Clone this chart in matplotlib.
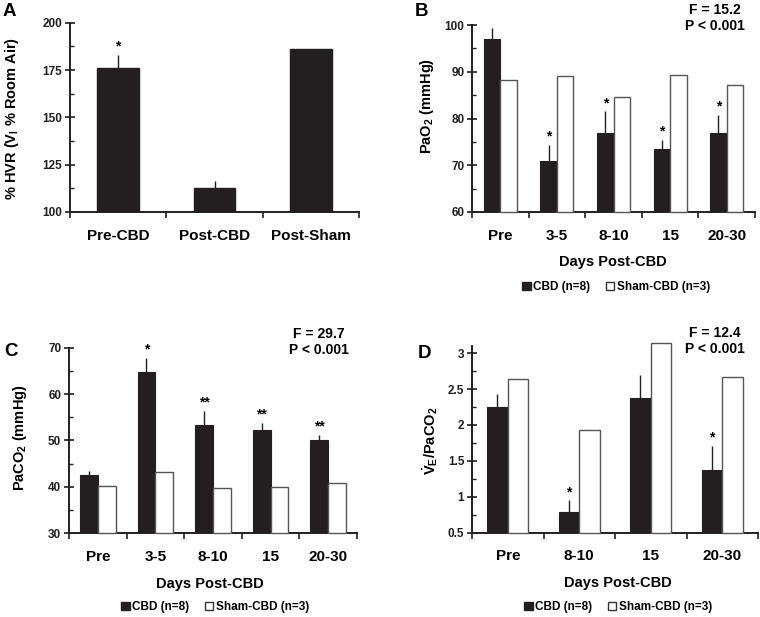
import numpy as np
import matplotlib
matplotlib.use('Agg')
import matplotlib.pyplot as plt
from matplotlib.patches import Patch
from matplotlib.ticker import MultipleLocator, FixedLocator, NullFormatter

plt.rcParams['font.family'] = ['Liberation Sans', 'DejaVu Sans']
plt.rcParams['font.weight'] = 'bold'
plt.rcParams['mathtext.fontset'] = 'custom'
plt.rcParams['mathtext.rm'] = 'Liberation Sans:bold'
plt.rcParams['mathtext.it'] = 'Liberation Sans:bold'
plt.rcParams['mathtext.bf'] = 'Liberation Sans:bold'

# panel A - hypoxic ventilatory response
hvr_labels = ['Pre-CBD', 'Post-CBD', 'Post-Sham']
hvr_vals = [176.2, 112.5, 186.0]
hvr_err = [6.7, 4.1, 0.0]
hvr_sig = ['*', '', '']

# panel B - PaO2
days_b = ['Pre', '3-5', '8-10', '15', '20-30']
pao2_cbd = [96.9, 71.0, 77.0, 73.4, 77.0]
pao2_cbd_err = [2.4, 3.4, 4.5, 2.0, 3.7]
pao2_sham = [88.2, 89.0, 84.5, 89.2, 87.1]
pao2_sig = ['', '*', '*', '*', '*']

# panel C - PaCO2
days_c = ['Pre', '3-5', '8-10', '15', '20-30']
paco2_cbd = [42.5, 64.7, 53.4, 52.2, 50.1]
paco2_cbd_err = [0.8, 3.1, 3.0, 1.5, 1.1]
paco2_sham = [40.2, 43.2, 39.7, 40.0, 40.7]
paco2_sig = ['', '*', '**', '**', '**']

# panel D - VE/PaCO2
days_d = ['Pre', '8-10', '15', '20-30']
ve_cbd = [2.25, 0.79, 2.38, 1.38]
ve_cbd_err = [0.18, 0.16, 0.32, 0.33]
ve_sham = [2.64, 1.93, 3.14, 2.67]
ve_sig = ['', '*', '', '*']

BLACK = '#231f20'
W, H = 760, 617
fig = plt.figure(figsize=(7.6, 6.17), dpi=100)


def px_axes(l, t, r, b):
    return fig.add_axes([l / W, 1 - b / H, (r - l) / W, (b - t) / H])


def ftxt(x, y, s, **kw):
    fig.text(x / W, 1 - y / H, s, **kw)


def style(ax, n, ylim, major, minor, fmt=None):
    ax.set_xlim(-0.5, n - 0.5)
    ax.set_ylim(*ylim)
    for s in ['top', 'right']:
        ax.spines[s].set_visible(False)
    for s in ['left', 'bottom']:
        ax.spines[s].set_linewidth(1.4)
        ax.spines[s].set_color(BLACK)
    ax.yaxis.set_major_locator(MultipleLocator(major))
    ax.yaxis.set_minor_locator(MultipleLocator(minor))
    if fmt:
        ax.yaxis.set_major_formatter(fmt)
    ax.tick_params(axis='y', which='major', direction='inout', length=7,
                   width=1.2, labelsize=8.5, pad=2, colors=BLACK)
    ax.tick_params(axis='y', which='minor', direction='in', length=3,
                   width=1.0, colors=BLACK)
    # ticks at category boundaries, labels at centres
    ax.xaxis.set_major_locator(FixedLocator(np.arange(-0.5, n, 1.0)))
    ax.xaxis.set_major_formatter(NullFormatter())
    ax.xaxis.set_minor_locator(FixedLocator(np.arange(n)))
    ax.tick_params(axis='x', which='major', direction='out', length=4,
                   width=1.2, colors=BLACK)
    ax.tick_params(axis='x', which='minor', length=0, labelsize=11, pad=12)


def stars(ax, xs, tops, sig):
    for x, t, s in zip(xs, tops, sig):
        if s:
            ax.annotate(s, (x, t), xytext=(0, 1), textcoords='offset points',
                        ha='center', va='bottom', fontsize=10, fontweight='bold',
                        annotation_clip=False)


def paired(ax, labels, cbd, cbd_err, sham, sig, w):
    x = np.arange(len(labels))
    lo = ax.get_ylim()[0]
    cbd = np.array(cbd)
    sham = np.array(sham)
    ax.bar(x - w / 2, cbd - lo, w, bottom=lo, color=BLACK, edgecolor=BLACK,
           linewidth=0.8, zorder=3)
    ax.bar(x + w / 2, sham - lo, w, bottom=lo, color='white', edgecolor='#555555',
           linewidth=1.0, zorder=3, clip_on=False)
    ax.vlines(x - w / 2, cbd, cbd + np.array(cbd_err),
              color=BLACK, linewidth=1.0, zorder=2)
    ax.set_xticks(x, labels, minor=True)
    stars(ax, x - w / 2, cbd + np.array(cbd_err), sig)


def legend(cx, cy):
    handles = [Patch(facecolor=BLACK, edgecolor=BLACK, label='CBD (n=8)'),
               Patch(facecolor='white', edgecolor='#333333', label='Sham-CBD (n=3)')]
    fig.legend(handles=handles, loc='center', bbox_to_anchor=(cx / W, 1 - cy / H),
               ncol=2, frameon=False, fontsize=8.5, handlelength=0.75,
               handleheight=0.75, handletextpad=0.2, columnspacing=1.3,
               borderpad=0)


# ---- A ----
axA = px_axes(70, 22.7, 359, 212)
style(axA, 3, (100, 200), 25, 12.5)
xa = np.arange(3)
axA.bar(xa, np.array(hvr_vals) - 100, 0.43, bottom=100, color=BLACK,
        edgecolor=BLACK, zorder=3)
err_idx = [i for i, e in enumerate(hvr_err) if e > 0]
axA.vlines(xa[err_idx], np.array(hvr_vals)[err_idx],
           np.array(hvr_vals)[err_idx] + np.array(hvr_err)[err_idx],
           color=BLACK, linewidth=1.0, zorder=2)
axA.set_xticks(xa, hvr_labels, minor=True)
stars(axA, xa, np.array(hvr_vals) + np.array(hvr_err), hvr_sig)
axA.tick_params(axis='x', which='minor', labelsize=11, pad=12)
ftxt(12, 118, '% HVR (V$_{\\mathregular{I}}$ % Room Air)', rotation=90,
     ha='center', va='center', fontsize=10.5)
ftxt(3, 12, 'A', fontsize=13.5, ha='left', va='center')

# ---- B ----
axB = px_axes(472, 25, 755, 212)
style(axB, 5, (60, 100), 10, 5)
paired(axB, days_b, pao2_cbd, pao2_cbd_err, pao2_sham, pao2_sig, 0.29)
ftxt(427, 106, 'PaO$_2$ (mmHg)', rotation=90, ha='center', va='center', fontsize=10.5)
ftxt(613, 262, 'Days Post-CBD', ha='center', va='center', fontsize=10.5)
ftxt(715, 18, 'F = 15.2\nP < 0.001', ha='center', va='center', fontsize=10,
     linespacing=1.25)
ftxt(415, 12, 'B', fontsize=13.5, ha='left', va='center')
legend(616, 287)

# ---- C ----
axC = px_axes(69, 347.7, 357, 533)
style(axC, 5, (30, 70), 10, 5)
paired(axC, days_c, paco2_cbd, paco2_cbd_err, paco2_sham, paco2_sig, 0.31)
ftxt(20, 438, 'PaCO$_2$ (mmHg)', rotation=90, ha='center', va='center', fontsize=10.5)
ftxt(210, 584, 'Days Post-CBD', ha='center', va='center', fontsize=10.5)
ftxt(319, 342, 'F = 29.7\nP < 0.001', ha='center', va='center', fontsize=10,
     linespacing=1.25)
ftxt(4, 352, 'C', fontsize=13.5, ha='left', va='center')
legend(215, 607)

# ---- D ----
axD = px_axes(472, 346, 758, 532.7)
style(axD, 4, (0.5, 3.1), 0.5, 0.25,
      fmt=matplotlib.ticker.FuncFormatter(lambda v, p: '%g' % v))
paired(axD, days_d, ve_cbd, ve_cbd_err, ve_sham, ve_sig, 0.29)
ftxt(430, 441, '$\\dot{\\mathregular{V}}_{\\mathregular{E}}$/PaCO$_2$', rotation=90,
     ha='center', va='center', fontsize=10.5)
ftxt(618, 583, 'Days Post-CBD', ha='center', va='center', fontsize=10.5)
ftxt(715, 341, 'F = 12.4\nP < 0.001', ha='center', va='center', fontsize=10,
     linespacing=1.25)
ftxt(418, 354, 'D', fontsize=13.5, ha='left', va='center')
legend(618, 607)

fig.savefig('out.png', dpi=100)
